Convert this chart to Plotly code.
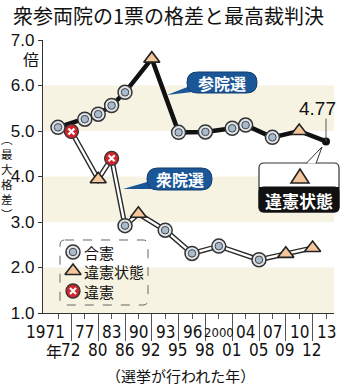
import plotly.graph_objects as go

# ---------------- data ----------------
x_labels = ["1971", "72", "77", "80", "83", "86", "90", "92", "93", "95", "96",
            "98", "2000", "01", "04", "05", "07", "09", "10", "12", "13"]

sangiin_years = ["1971", "77", "80", "83", "86", "92", "95", "98", "01", "04", "07", "10", "13"]
sangiin_vals = [5.08, 5.26, 5.37, 5.56, 5.85, 6.59, 4.97, 4.98, 5.06, 5.13, 4.86, 5.00, 4.77]
sangiin_rulings = ["合憲", "合憲", "合憲", "合憲", "合憲", "違憲状態", "合憲", "合憲",
                   "合憲", "合憲", "合憲", "違憲状態", "未定"]

shugiin_years = ["72", "80", "83", "86", "90", "93", "96", "2000", "05", "09", "12"]
shugiin_vals = [4.99, 3.94, 4.40, 2.92, 3.18, 2.82, 2.31, 2.47, 2.17, 2.30, 2.43]
shugiin_rulings = ["違憲", "違憲状態", "違憲", "合憲", "違憲状態", "合憲", "合憲", "合憲",
                   "合憲", "違憲状態", "違憲状態"]

y_ticks = [1, 2, 3, 4, 5, 6, 7]
y_ticktext = ["1.0", "2.0", "3.0", "4.0", "5.0", "6.0", "7.0"]
legend_items = ["合憲", "違憲状態", "違憲"]

# ---------------- layout geometry (pixels) ----------------
W, H = 355, 385
PL, PT, PR, PB = 43, 40, 334, 313
STEP = 13.4
X0PIX = 58
xmin = -(X0PIX - PL) / STEP
xmax = (PR - X0PIX) / STEP

JP = "Noto Sans CJK JP"
NUM = "Liberation Sans"
NARROW = "Liberation Sans Narrow, DejaVu Sans Condensed, Liberation Sans"
BEIGE = "#f7f3e2"
BLUE = "#1b5797"
PEACH = "#f5c69c"


def px(x):
    return (x - PL) / (PR - PL)


def py(y):
    return (PB - y) / (PB - PT)


def P(x, y):
    return f"{px(x):.5f},{py(y):.5f}"


def rrect(x0, y0, x1, y1, r):
    return (f"M{P(x0 + r, y0)} L{P(x1 - r, y0)} Q{P(x1, y0)} {P(x1, y0 + r)} "
            f"L{P(x1, y1 - r)} Q{P(x1, y1)} {P(x1 - r, y1)} L{P(x0 + r, y1)} "
            f"Q{P(x0, y1)} {P(x0, y1 - r)} L{P(x0, y0 + r)} Q{P(x0, y0)} {P(x0 + r, y0)} Z")


def note(x, y, text, size, family=JP, color="#111", xanchor="center", yanchor="middle",
         height=None, **kw):
    extra = {}
    if height is not None:
        extra = dict(height=height, borderpad=0, valign="middle")
    fig.add_annotation(xref="paper", yref="paper", x=px(x), y=py(y), text=text, showarrow=False,
                       xanchor=xanchor, yanchor=yanchor,
                       font=dict(family=family, size=size, color=color, **kw), **extra)


pos = {lab: i for i, lab in enumerate(x_labels)}
fig = go.Figure()

# background bands
for lo in (1, 3, 5):
    fig.add_shape(type="rect", xref="paper", yref="y", x0=0, x1=1, y0=lo, y1=lo + 1,
                  fillcolor=BEIGE, line_width=0, layer="below")

sx = [pos[y] for y in shugiin_years]
kx = [pos[y] for y in sangiin_years]

# 衆院 double line
fig.add_trace(go.Scatter(x=sx, y=shugiin_vals, mode="lines",
                         line=dict(color="#2a2a2a", width=5.2), hoverinfo="skip", showlegend=False))
fig.add_trace(go.Scatter(x=sx, y=shugiin_vals, mode="lines",
                         line=dict(color="white", width=2.4), hoverinfo="skip", showlegend=False))
# 参院 thick line
fig.add_trace(go.Scatter(x=kx, y=sangiin_vals, mode="lines",
                         line=dict(color="#111", width=4.5), hoverinfo="skip", showlegend=False))


def add_markers(xs, ys, kind, xa="x", ya="y"):
    common = dict(x=xs, y=ys, mode="markers", xaxis=xa, yaxis=ya,
                  hoverinfo="skip", showlegend=False, cliponaxis=False)
    if not xs:
        return
    if kind == "合憲":
        fig.add_trace(go.Scatter(**common, marker=dict(symbol="circle", size=14, color="#dfe5eb",
                                                       line=dict(color="#333", width=1.5))))
        fig.add_trace(go.Scatter(**common, marker=dict(symbol="circle", size=7.5, color="#a9bccd",
                                                       line=dict(color="#444", width=1))))
    elif kind == "違憲状態":
        fig.add_trace(go.Scatter(**common, marker=dict(symbol="triangle-up", size=14, color=PEACH,
                                                       line=dict(color="#222", width=1.6))))
    elif kind == "違憲":
        fig.add_trace(go.Scatter(**common, marker=dict(symbol="circle", size=14, color="#d0252c",
                                                       line=dict(color="#333", width=1.3))))
        fig.add_trace(go.Scatter(**common, marker=dict(symbol="x-thin", size=6, color="white",
                                                       line=dict(color="white", width=2.2))))
    else:
        fig.add_trace(go.Scatter(**common, marker=dict(symbol="circle", size=8, color="#111",
                                                       line=dict(width=0))))


for kind in ["合憲", "違憲状態", "違憲", "未定"]:
    add_markers([pos[y] for y, r in zip(shugiin_years, shugiin_rulings) if r == kind],
                [v for v, r in zip(shugiin_vals, shugiin_rulings) if r == kind], kind)
    add_markers([pos[y] for y, r in zip(sangiin_years, sangiin_rulings) if r == kind],
                [v for v, r in zip(sangiin_vals, sangiin_rulings) if r == kind], kind)

# ---------------- legend box ----------------
fig.add_shape(type="path", xref="paper", yref="paper", path=rrect(60, 240, 148, 305, 5),
              line=dict(color="#666", width=1, dash="dash"), fillcolor="rgba(0,0,0,0)")
leg_y = [252, 271, 291]
for item, ly in zip(legend_items, leg_y):
    add_markers([73], [ly], item, xa="x2", ya="y2")
    note(82, ly, item, 15, xanchor="left")

# ---------------- callouts ----------------
# 参院選
fig.add_shape(type="path", xref="paper", yref="paper",
              path=f"M{P(195, 84)} L{P(167, 95)} L{P(201, 91)} Z", fillcolor=BLUE, line_width=0)
fig.add_shape(type="path", xref="paper", yref="paper", path=rrect(187, 72, 257, 93, 10.5),
              fillcolor=BLUE, line=dict(color="#0e3d70", width=1))
note(222, 82.5, "参院選", 16, color="white", weight="bold")
# 衆院選
fig.add_shape(type="path", xref="paper", yref="paper",
              path=f"M{P(154, 180)} L{P(123, 189)} L{P(160, 189)} Z", fillcolor=BLUE, line_width=0)
fig.add_shape(type="path", xref="paper", yref="paper", path=rrect(147, 168, 212, 190, 11),
              fillcolor=BLUE, line=dict(color="#0e3d70", width=1))
note(180, 179, "衆院選", 16, color="white", weight="bold")

# 違憲状態 callout box
fig.add_shape(type="path", xref="paper", yref="paper", path=rrect(259, 163, 339, 212, 5),
              fillcolor="white", line=dict(color="#333", width=1.2))
fig.add_shape(type="path", xref="paper", yref="paper", path=rrect(259, 187, 339, 212, 5),
              fillcolor="#111", line=dict(color="#111", width=1))
fig.add_shape(type="rect", xref="paper", yref="paper", x0=px(259), x1=px(339), y0=py(187), y1=py(195),
              fillcolor="#111", line_width=0)
fig.add_shape(type="path", xref="paper", yref="paper",
              path=f"M{P(306, 163.6)} L{P(322, 147)} L{P(316, 163.6)}",
              fillcolor="white", line=dict(color="#333", width=1))
fig.add_shape(type="path", xref="paper", yref="paper",
              path=f"M{P(291, 183)} L{P(309, 183)} L{P(300, 169)} Z",
              fillcolor=PEACH, line=dict(color="#222", width=1.6))
note(299, 200, "違憲状態", 17, color="white", weight="bold")

# latest value label
fig.add_shape(type="line", xref="x", yref="y", x0=kx[-1], x1=kx[-1], y0=sangiin_vals[-1],
              y1=sangiin_vals[-1] + 0.5, line=dict(color="#555", width=1))
fig.add_annotation(xref="x", yref="y", x=kx[-1], y=sangiin_vals[-1], text=f"{sangiin_vals[-1]:.2f}",
                   showarrow=False, xshift=-9, yshift=33, xanchor="center", yanchor="middle",
                   font=dict(family=NUM, size=19, color="#111"))

# ---------------- x tick labels ----------------
for i, lab in enumerate(x_labels):
    top = (i % 2 == 0)
    size = 13 if lab == "2000" else 17
    if i == 0:
        fig.add_annotation(xref="x", yref="paper", x=i, y=py(332), text=lab, showarrow=False,
                           xanchor="right", xshift=9, yanchor="middle",
                           font=dict(family=NARROW, size=size, color="#111"))
    else:
        fig.add_annotation(xref="x", yref="paper", x=i, y=py(332 if top else 350), text=lab,
                           showarrow=False, xanchor="center", xshift=0 if top else -1, yanchor="middle",
                           font=dict(family=NARROW, size=size, color="#111"))
note(54, 351, "年", 16, height=16)
note(180, 375, "（選挙が行われた年）", 15)

# y labels
note(31, 59.5, "倍", 16, height=16)
note(6.5, 176, "<br>".join("︵最大格差︶"), 11.5)

# title
note(12, 14.5, "衆参両院の1票の格差と最高裁判決", 20, xanchor="left", height=26)

fig.update_layout(
    width=W, height=H,
    margin=dict(l=PL, r=W - PR, t=PT, b=H - PB, autoexpand=False),
    paper_bgcolor="white", plot_bgcolor="white",
    showlegend=False,
    xaxis=dict(range=[xmin, xmax], showgrid=False, zeroline=False, showline=True,
               linecolor="#333", linewidth=1.3, showticklabels=False,
               tickmode="array", tickvals=list(range(1, len(x_labels), 2)),
               ticks="outside", ticklen=27, tickwidth=1, tickcolor="#555",
               minor=dict(tickmode="array", tickvals=list(range(0, len(x_labels), 2)),
                          ticks="outside", ticklen=5, tickwidth=1, tickcolor="#555"),
               fixedrange=True),
    yaxis=dict(range=[1, 7], showgrid=False, zeroline=False, showline=True,
               linecolor="#333", linewidth=1.3, tickmode="array", tickvals=y_ticks,
               ticktext=y_ticktext, ticks="outside", ticklen=4, tickcolor="#333",
               tickfont=dict(family=NUM, size=17, color="#111"), automargin=False,
               fixedrange=True),
    xaxis2=dict(overlaying="x", anchor="y2", range=[PL, PR], visible=False, fixedrange=True),
    yaxis2=dict(overlaying="y", anchor="x2", range=[PB, PT], visible=False, fixedrange=True),
)

fig.write_html("out.html", config={"displayModeBar": False},
               post_script="document.body.style.margin='0';document.body.style.padding='0';"
                           "document.body.style.overflow='hidden';")
